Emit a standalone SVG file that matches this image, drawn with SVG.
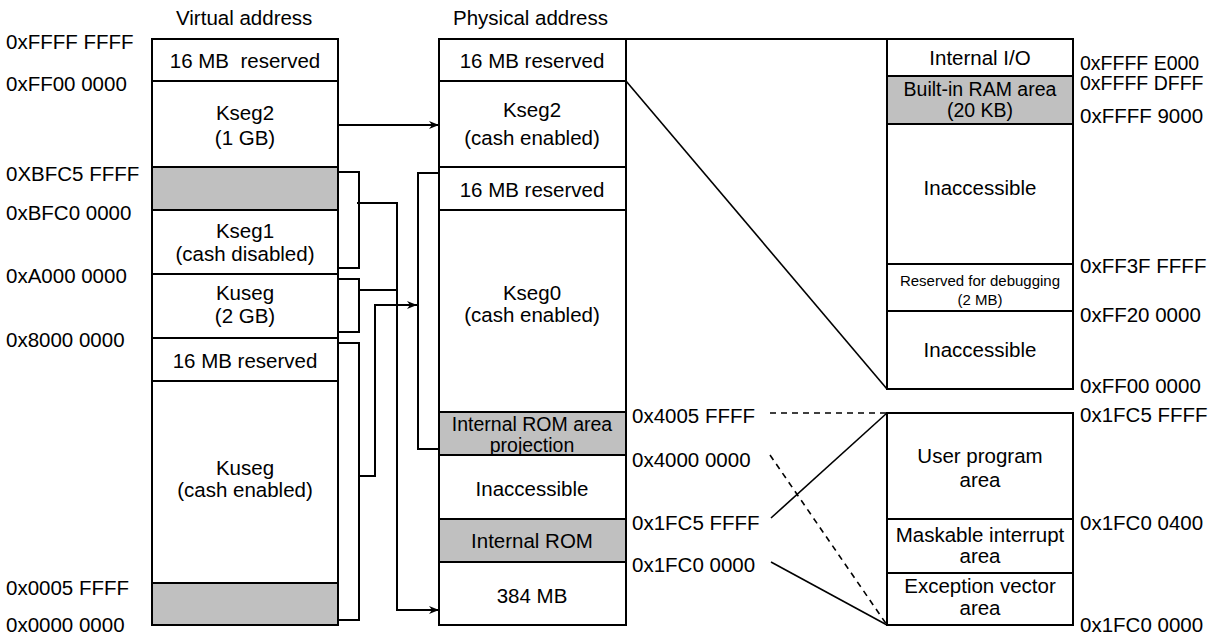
<svg xmlns="http://www.w3.org/2000/svg" width="1230" height="636" viewBox="0 0 1230 636">
<defs>
<style>
text{font-family:"Liberation Sans",Arial,sans-serif;font-size:20.5px;fill:#000}
.c{text-anchor:middle}
.s{font-size:15px}
.t{font-size:19.5px}
.pre{white-space:pre}
.box{fill:#fff;stroke:#000;stroke-width:2}
.g{fill:#c0c0c0;stroke:#000;stroke-width:2}
.ln{fill:none;stroke:#000;stroke-width:2}
.th{fill:none;stroke:#000;stroke-width:1.6}
.ds{fill:none;stroke:#000;stroke-width:1.6;stroke-dasharray:6 5}
</style>
<marker id="arr" viewBox="0 0 10 8" refX="10" refY="4" markerWidth="10" markerHeight="8" markerUnits="userSpaceOnUse" orient="auto">
<path d="M0,0 L10,4 L0,8 L3,4 Z" fill="#000"/>
</marker>
</defs>
<rect width="1230" height="636" fill="#fff"/>

<text x="176" y="25">Virtual address</text>
<text x="453" y="25">Physical address</text>

<g id="virtual">
<rect class="box" x="152" y="39" width="186" height="42"/>
<text class="c pre" x="245" y="68">16 MB  reserved</text>
<rect class="box" x="152" y="81" width="186" height="86"/>
<text class="c" x="245" y="120">Kseg2</text>
<text class="c" x="245" y="145">(1 GB)</text>
<rect class="g" x="152" y="167" width="186" height="43"/>
<rect class="box" x="152" y="210" width="186" height="64"/>
<text class="c" x="245" y="238">Kseg1</text>
<text class="c" x="245" y="261">(cash disabled)</text>
<rect class="box" x="152" y="274" width="186" height="64"/>
<text class="c" x="245" y="300">Kuseg</text>
<text class="c" x="245" y="323">(2 GB)</text>
<rect class="box" x="152" y="338" width="186" height="43"/>
<text class="c" x="245" y="368">16 MB reserved</text>
<rect class="box" x="152" y="381" width="186" height="202"/>
<text class="c" x="245" y="475">Kuseg</text>
<text class="c" x="245" y="497">(cash enabled)</text>
<rect class="g" x="152" y="583" width="186" height="42"/>
</g>

<g id="virtual-labels">
<text x="6" y="49">0xFFFF FFFF</text>
<text x="6" y="91">0xFF00 0000</text>
<text x="6" y="181">0XBFC5 FFFF</text>
<text x="6" y="220">0xBFC0 0000</text>
<text x="6" y="283">0xA000 0000</text>
<text x="6" y="347">0x8000 0000</text>
<text x="6" y="595">0x0005 FFFF</text>
<text x="6" y="632">0x0000 0000</text>
</g>

<g id="physical">
<rect class="box" x="439" y="39" width="187" height="42"/>
<text class="c" x="532" y="68">16 MB reserved</text>
<rect class="box" x="439" y="81" width="187" height="86"/>
<text class="c" x="532" y="117">Kseg2</text>
<text class="c" x="532" y="145">(cash enabled)</text>
<rect class="box" x="439" y="167" width="187" height="43"/>
<text class="c" x="532" y="197">16 MB reserved</text>
<rect class="box" x="439" y="210" width="187" height="202"/>
<text class="c" x="532" y="300">Kseg0</text>
<text class="c" x="532" y="322">(cash enabled)</text>
<rect class="g" x="439" y="412" width="187" height="43"/>
<text class="c t" x="532" y="431">Internal ROM area</text>
<text class="c t" x="532" y="452">projection</text>
<rect class="box" x="439" y="455" width="187" height="64"/>
<text class="c" x="532" y="496">Inaccessible</text>
<rect class="g" x="439" y="519" width="187" height="43"/>
<text class="c" x="532" y="548">Internal ROM</text>
<rect class="box" x="439" y="562" width="187" height="63"/>
<text class="c" x="532" y="603">384 MB</text>
</g>

<g id="physical-labels">
<text x="632" y="423">0x4005 FFFF</text>
<text x="632" y="467">0x4000 0000</text>
<text x="632" y="530">0x1FC5 FFFF</text>
<text x="632" y="572">0x1FC0 0000</text>
</g>

<g id="io-map">
<rect class="box" x="887" y="39" width="186" height="37"/>
<text class="c" x="980" y="65">Internal I/O</text>
<rect class="g" x="887" y="76" width="186" height="48"/>
<text class="c t" x="980" y="96">Built-in RAM area</text>
<text class="c t" x="980" y="117">(20 KB)</text>
<rect class="box" x="887" y="124" width="186" height="140"/>
<text class="c" x="980" y="195">Inaccessible</text>
<rect class="box" x="887" y="264" width="186" height="47"/>
<text class="c s" x="980" y="286">Reserved for debugging</text>
<text class="c s" x="980" y="305">(2 MB)</text>
<rect class="box" x="887" y="311" width="186" height="78"/>
<text class="c" x="980" y="357">Inaccessible</text>
<text class="t" x="1080" y="70">0xFFFF E000</text>
<text class="t" x="1080" y="90">0xFFFF DFFF</text>
<text x="1080" y="123">0xFFFF 9000</text>
<text x="1080" y="273">0xFF3F FFFF</text>
<text x="1080" y="322">0xFF20 0000</text>
<text x="1080" y="393">0xFF00 0000</text>
</g>

<g id="rom-map">
<rect class="box" x="887" y="413" width="186" height="106"/>
<text class="c" x="980" y="463">User program</text>
<text class="c" x="980" y="487">area</text>
<rect class="box" x="887" y="519" width="186" height="54"/>
<text class="c" x="980" y="542">Maskable interrupt</text>
<text class="c" x="980" y="563">area</text>
<rect class="box" x="887" y="573" width="186" height="52"/>
<text class="c" x="980" y="593">Exception vector</text>
<text class="c" x="980" y="615">area</text>
<text x="1080" y="422">0x1FC5 FFFF</text>
<text x="1080" y="530">0x1FC0 0400</text>
<text x="1080" y="632">0x1FC0 0000</text>
</g>

<g id="connectors">
<path class="ln" d="M338,125 H439" marker-end="url(#arr)"/>
<path class="ln" d="M338,172 H359 V268 H338"/>
<path class="ln" d="M338,279 H359 V332 H338"/>
<path class="ln" d="M338,343 H359 V620 H338"/>
<path class="ln" d="M357,203 H397 V610 H439" marker-end="url(#arr)"/>
<path class="ln" d="M359,290 H397"/>
<path class="ln" d="M359,476 H375 V305 H417" marker-end="url(#arr)"/>
<path class="ln" d="M439,173 H418 V449 H439"/>
<path class="ln" d="M626,39 H887"/>
<path class="th" d="M626,81 L887,389"/>
<path class="ds" d="M770,413 H887"/>
<path class="th" d="M771,518 L887,413"/>
<path class="ds" d="M770,455 L887,625"/>
<path class="th" d="M771,562 L887,625"/>
</g>
</svg>
